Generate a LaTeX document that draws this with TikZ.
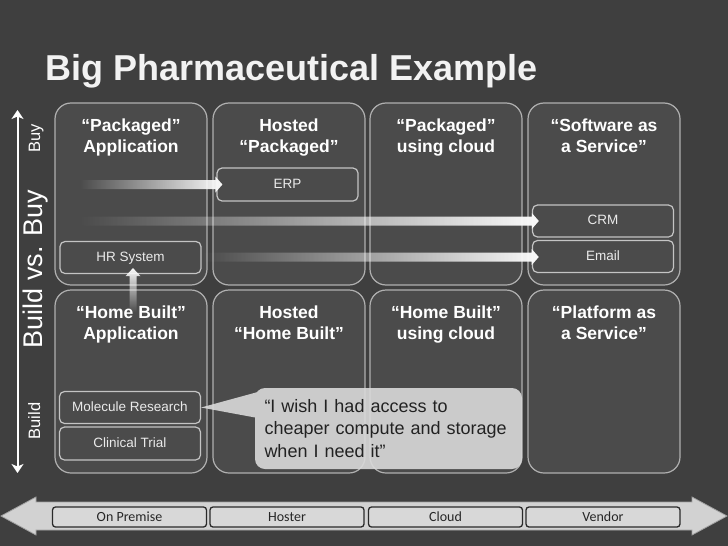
\documentclass[tikz,border=0pt]{standalone}
\usepackage{fontspec}
\setmainfont{Liberation Sans}
\newfontfamily\calibfont{Carlito}
\usetikzlibrary{fadings,calc,arrows.meta}
\definecolor{bg}{HTML}{3F3F3F}
\definecolor{panelfill}{HTML}{4B4B4B}
\definecolor{panelline}{HTML}{B0B0B0}
\definecolor{boxline}{HTML}{C4C4C4}
\definecolor{callfill}{HTML}{DADADA}
\definecolor{calltext}{HTML}{1E1E1E}
\definecolor{barfill}{HTML}{D2D2D2}
\definecolor{barline}{HTML}{A0A0A0}
\definecolor{tabfill}{HTML}{D8D8D8}
\definecolor{tabline}{HTML}{2A2A2A}
\tikzfading[name=fadefromleft, left color=transparent!100, right color=transparent!0]
\tikzfading[name=fadefrombottom, bottom color=transparent!100, top color=transparent!0]
\newcommand\hfarrow[2]{%
  \fill[fadearrow] let \p1=(#1), \p2=(#2) in
    (\x1,\y1+4.5pt) -- (\x2-7pt,\y1+4.5pt) -- (\x2-7pt,\y1+8pt) -- (\x2,\y1)
    -- (\x2-7pt,\y1-8pt) -- (\x2-7pt,\y1-4.5pt) -- (\x1,\y1-4.5pt) -- cycle;}
\begin{document}
\begin{tikzpicture}[x=1pt,y=-1pt,
  panel/.style={draw=panelline, line width=1.2pt, fill=panelfill, rounded corners=16pt,
    minimum width=152pt, minimum height=182pt, inner sep=0pt},
  ptitle/.style={font=\bfseries\fontsize{17.5}{21}\selectfont, text=white, align=center,
    anchor=base, inner sep=0pt},
  subbox/.style={draw=boxline, line width=1.2pt, fill=panelfill, rounded corners=5pt,
    minimum width=141pt, minimum height=32pt, inner sep=0pt, text height=10pt, text depth=3pt,
    font=\fontsize{13.5}{16}\selectfont, text=white!92!black},
  tab/.style={draw=tabline, line width=1.3pt, fill=tabfill, rounded corners=3pt,
    minimum width=154pt, minimum height=20pt, inner sep=0pt,
    font=\calibfont\fontsize{14}{16}\selectfont, text=black!85},
  fadearrow/.style={fill=white!96!gray, path fading=fadefromleft},
  upfade/.style={fill=white!96!gray, path fading=fadefrombottom},
  sidelbl/.style={rotate=90, anchor=base, text=white, inner sep=0pt},
  axisline/.style={draw=white, line width=2pt,
    {Stealth[length=9pt,width=12pt,inset=2.5pt]}-{Stealth[length=9pt,width=12pt,inset=2.5pt]}},
  callout/.style={fill=callfill, rounded corners=10pt, minimum width=267pt, minimum height=81pt,
    text width=248pt, inner xsep=9.5pt, align=left, text=calltext,
    font=\fontsize{18}{22.5}\selectfont}
]
\useasboundingbox (0,0) rectangle (728,546);
\fill[bg] (0,0) rectangle (728,546);

% title
\node[anchor=base west, inner sep=0pt, text=white!95!black,
  font=\bfseries\fontsize{36}{40}\selectfont] (title) at (45,80) {Big Pharmaceutical Example};

% panels
\node[panel] (p1) at (131,194) {};
\node[panel] (p2) at (289,194) {};
\node[panel] (p3) at (446,194) {};
\node[panel] (p4) at (604,194) {};
\node[panel, minimum height=183pt] (q1) at (131,381.5) {};
\node[panel, minimum height=183pt] (q2) at (289,381.5) {};
\node[panel, minimum height=183pt] (q3) at (446,381.5) {};
\node[panel, minimum height=183pt] (q4) at (604,381.5) {};

% sub boxes
\node[subbox, minimum height=33pt] (erp) at (287.5,184.5) {ERP};
\node[subbox] (crm) at (603,221) {CRM};
\node[subbox] (email) at (603,256.5) {Email};
\node[subbox] (hr) at (130.5,257.5) {HR System};
\node[subbox] (mol) at (130,407.5) {Molecule Research};
\node[subbox, minimum height=33pt] (clin) at (130,443.5) {Clinical Trial};

% fading arrows
\coordinate (erps) at (80,184.5);
\coordinate (crms) at (80,221);
\coordinate (ems) at (202,257);
\coordinate (vs) at (133,312);
\hfarrow{erps}{$(erp.west)+(6,0)$}
\hfarrow{crms}{$(crm.west)+(7,0)$}
\hfarrow{ems}{$(email.west)+(7,0.5)$}
\fill[upfade] let \p1=(vs), \p2=($(hr.south)+(2.5,-6)$) in
  (\x1-3.5pt,\y1) -- (\x1-3.5pt,\y2-8pt) -- (\x1-7.5pt,\y2-8pt) -- (\x1,\y2)
  -- (\x1+7.5pt,\y2-8pt) -- (\x1+3.5pt,\y2-8pt) -- (\x1+3.5pt,\y1) -- cycle;

% panel titles (anchor base = last line)
\node[ptitle] (t1) at (131,152.7) {“Packaged”\\Application};
\node[ptitle] (t2) at (289,152.7) {Hosted\\“Packaged”};
\node[ptitle] (t3) at (446,152.7) {“Packaged”\\using cloud};
\node[ptitle] (t4) at (604,152.7) {“Software as\\a Service”};
\node[ptitle] (u1) at (131,339.7) {“Home Built”\\Application};
\node[ptitle] (u2) at (289,339.7) {Hosted\\“Home Built”};
\node[ptitle] (u3) at (446,339.7) {“Home Built”\\using cloud};
\node[ptitle] (u4) at (604,339.7) {“Platform as\\a Service”};

% left axis
\coordinate (axtop) at (17.5,110);
\coordinate (axbot) at (17.5,473);
\draw[axisline] (axbot) -- (axtop);
\node[sidelbl, font=\fontsize{16.5}{18}\selectfont] (buy) at (40,138) {Buy};
\node[sidelbl, font=\fontsize{27}{30}\selectfont] (bvb) at (42,269) {Build vs. Buy};
\node[sidelbl, font=\fontsize{16.5}{18}\selectfont] (build) at (40,421) {Build};

% callout
\begin{scope}[transparency group, opacity=0.9]
\node[callout] (call) at (388.5,428.5) {“I wish I had access to\\cheaper compute and storage\\when I need it”};
\fill[callfill] (mol.east) -- ($(call.west)+(3,-36.5)$) -- ($(call.west)+(3,-10.5)$) -- cycle;
\end{scope}

% bottom bar
\filldraw[fill=barfill, draw=barline, line width=0.8pt]
  (1,516) -- (36,497) -- (36,502) -- (692,502) -- (692,497) -- (727,516)
  -- (692,535) -- (692,530) -- (36,530) -- (36,535) -- cycle;
\node[tab] (onprem) at (129.5,517) {On Premise};
\node[tab] (hoster) at (287,517) {Hoster};
\node[tab] (cloud) at (445.5,517) {Cloud};
\node[tab] (vendor) at (603,517) {Vendor};
\end{tikzpicture}
\end{document}
